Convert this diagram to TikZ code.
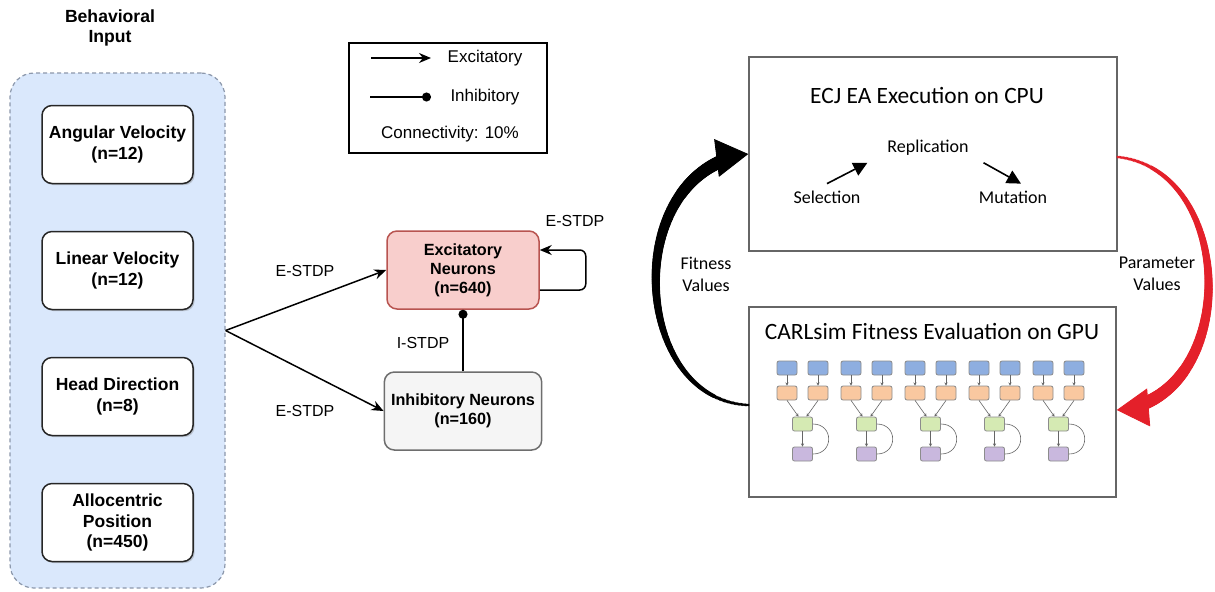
\documentclass[tikz,border=0pt]{standalone}
\usepackage{fontspec}
\setmainfont{Liberation Sans}
\newfontfamily\carlito{Carlito}
\usetikzlibrary{arrows.meta,positioning,shadows,decorations.markings,calc}

\definecolor{groupfill}{RGB}{218,232,252}
\definecolor{groupdraw}{RGB}{140,152,172}
\definecolor{excfill}{RGB}{248,206,204}
\definecolor{excdraw}{RGB}{184,84,80}
\definecolor{inhfill}{RGB}{245,245,245}
\definecolor{inhdraw}{RGB}{110,110,110}
\definecolor{paramred}{RGB}{228,32,42}
\definecolor{modblue}{RGB}{142,174,224}
\definecolor{modorange}{RGB}{249,200,160}
\definecolor{modgreen}{RGB}{213,234,179}
\definecolor{modpurple}{RGB}{201,184,222}

\begin{document}
\begin{tikzpicture}
    [x=0.5pt, y=-0.5pt, node distance=23.25pt,
    % STYLES
    % The input style is used for the behavioral input groups
    input/.style={rectangle, rounded corners=5pt, draw=black!85, line width=0.75pt, fill=white, minimum width=75.5pt, minimum height=39pt, align=center, font=\fontsize{8.75}{10.3}\selectfont\bfseries, drop shadow={shadow xshift=0.8pt, shadow yshift=-0.8pt, opacity=0.35}},
    % The pop style is used for the neuron populations
    pop/.style={rectangle, rounded corners=5pt, line width=0.75pt, minimum width=76pt, minimum height=39pt, align=center, font=\fontsize{8.1}{9.4}\selectfont\bfseries},
    lbl/.style={font=\fontsize{8}{9.6}\selectfont},
    lgd/.style={font=\fontsize{8.5}{10}\selectfont},
    excite/.style={-{Stealth[length=6pt,width=5pt]}, line width=0.75pt},
    inhibit/.style={-{Circle[length=4.5pt]}, line width=0.75pt},
    % The stage style is used for the CPU and GPU boxes
    stage/.style={rectangle, draw=black!60, line width=0.75pt, fill=white},
    stagetitle/.style={font=\carlito\fontsize{11.7}{14}\selectfont},
    evo/.style={font=\carlito\fontsize{9}{11}\selectfont, align=center},
    evoarrow/.style={-{Triangle[length=7pt,width=7pt]}, line width=0.8pt},
    % small network modules
    unit/.style={rectangle, rounded corners=1pt, draw=black!45, line width=0.4pt, minimum width=10pt, minimum height=7pt, inner sep=0pt},
    wire/.style={-{Stealth[length=1.6pt,width=1.6pt]}, draw=black!60, line width=0.3pt},
    % tapered loop arrows: a body of growing dots, and a big tip
    loop/.style={decorate, decoration={markings,
        mark=between positions 0 and 0.93 step 0.004 with {\pgfmathsetmacro\rr{0.7+2.6*\pgfkeysvalueof{/pgf/decoration/mark info/sequence number}/232}\pgfpathcircle{\pgfpointorigin}{\rr pt}\pgfsetfillcolor{#1}\pgfusepath{fill}}}},
    looptip/.style={draw=#1, fill=#1, line width=0.4pt, -{Triangle[length=16pt,width=19pt]}}]

    \useasboundingbox (0,0) rectangle (1215,591);
    \fill [white] (0,0) rectangle (1215,591);

    % Behavioral input
    \node [font=\fontsize{8.8}{10}\selectfont\bfseries, align=center] (title) at (110,28) {Behavioral\\Input};
    \node [rectangle, rounded corners=12pt, draw=groupdraw, fill=groupfill, line width=0.6pt, dash pattern=on 2pt off 1.5pt, minimum width=107.5pt, minimum height=257.5pt] (inputs) at (117.5,330.5) {};

    \node [input] (ang) at (117.5,144.5) {Angular Velocity\\(n=12)};
    \node [input, below=of ang] (lin) {Linear Velocity\\(n=12)};
    \node [input, below=of lin] (head) {Head Direction\\(n=8)};
    \node [input, below=of head] (allo) {Allocentric\\Position\\(n=450)};

    % Legend
    \node [draw, line width=0.75pt, minimum width=99pt, minimum height=55pt] (legend) at (448,98) {};
    \coordinate (ea) at (371,58);
    \coordinate (eb) at (431,58);
    \coordinate (ia) at (370,97);
    \coordinate (ib) at (431,97);
    \draw [excite] (ea) -- (eb);
    \draw [inhibit] (ia) -- (ib);
    \node [lgd] (lexc) at (485,58) {Excitatory};
    \node [lgd] (linh) at (485,97) {Inhibitory};
    \node [lgd] (lconn) at (450,134) {Connectivity: 10\%};

    % Neuron populations
    \node [pop, fill=excfill, draw=excdraw] (excn) at (463,270) {Excitatory\\Neurons\\(n=640)};
    \node [pop, fill=inhfill, draw=inhdraw] (inhn) at (463,411) {Inhibitory Neurons\\(n=160)};

    \draw [excite] (inputs.east) -- (excn.west);
    \draw [excite] (inputs.east) -- (inhn.west);
    \draw [excite, rounded corners=3pt] ([yshift=-10pt]excn.east) -- ++(23pt,0) |- ([yshift=10pt]excn.east);
    \draw [inhibit] (inhn.north) -- (excn.south);

    \node [lbl] (e1) at (305,271) {E-STDP};
    \node [lbl] (e2) at (305,411) {E-STDP};
    \node [lbl] (e3) at (575,221) {E-STDP};
    \node [lbl] (i1) at (423,343) {I-STDP};

    % CPU stage
    \node [stage, minimum width=184pt, minimum height=97pt] (ecj) at (933,154) {};
    \node [stagetitle] (ecjt) at (927,95) {ECJ EA Execution on CPU};
    \node [evo] (rep) at (928,148) {Replication};
    \node [evo] (sel) at (827,197) {Selection};
    \node [evo] (mut) at (1013,197) {Mutation};
    \draw [evoarrow] (sel.north) -- ([xshift=-6.5pt]rep.south west);
    \draw [evoarrow] ([xshift=4pt]rep.south east) -- ([xshift=4pt]mut.north);

    % GPU stage
    \node [stage, minimum width=183.5pt, minimum height=95pt] (carl) at (932.5,402) {};
    \node [stagetitle] (carlt) at (932,331) {CARLsim Fitness Evaluation on GPU};

    \foreach \m [evaluate=\m as \bx using 777+64*\m] in {0,...,4} {
        \node [unit, fill=modblue] (ba\m) at (\bx+10,368) {};
        \node [unit, fill=modblue] (bb\m) at (\bx+41,368) {};
        \node [unit, fill=modorange] (oa\m) at (\bx+10,393) {};
        \node [unit, fill=modorange] (ob\m) at (\bx+41,393) {};
        \node [unit, fill=modgreen] (g\m) at (\bx+25.5,424) {};
        \node [unit, fill=modpurple] (p\m) at (\bx+25.5,454) {};
        \draw [wire] (ba\m) -- (oa\m);
        \draw [wire] (bb\m) -- (ob\m);
        \draw [wire] (oa\m.south) -- ([xshift=-2pt]g\m.north);
        \draw [wire] (ob\m.south) -- ([xshift=2pt]g\m.north);
        \draw [wire] (g\m) -- (p\m);
        \draw [draw=black!60, line width=0.3pt] (g\m.east) to[out=0, in=0, looseness=1.8] (p\m.east);
    }

    % Loop between the stages
    \coordinate (fitfrom) at ([yshift=-1.5pt]carl.west);
    \coordinate (parfrom) at ([yshift=-1.5pt]ecj.east);
    \coordinate (parto) at ([yshift=-4pt]carl.east);
    \path [loop=black] (fitfrom) .. controls (630,400) and (620,170) .. (ecj.west);
    \draw [looptip=black] ($(ecj.west)!1pt!(620,170)$) -- (ecj.west);
    \path [loop=paramred] (parfrom) .. controls (1238,170) and (1240,400) .. (parto);
    \draw [looptip=paramred] ($(parto)!1pt!(1240,400)$) -- (parto);
    \node [evo] (fit) at (706,274) {Fitness\\Values};
    \node [evo] (par) at (1157,274) {Parameter\\Values};
\end{tikzpicture}
\end{document}
